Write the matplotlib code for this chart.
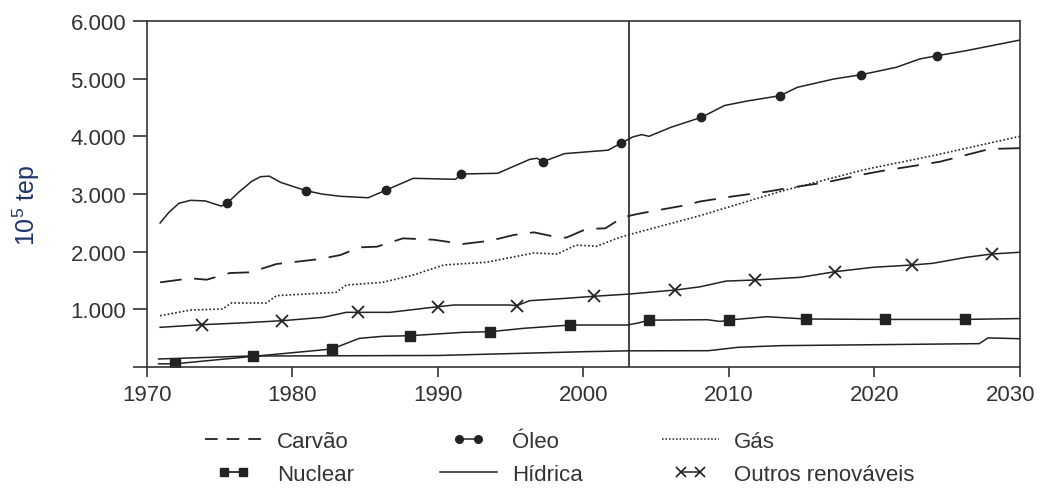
import matplotlib
matplotlib.use('Agg')
import matplotlib.pyplot as plt
from matplotlib.lines import Line2D
from matplotlib.legend_handler import HandlerLine2D
from matplotlib.transforms import ScaledTranslation

plt.rcParams['font.family'] = ['Liberation Sans', 'DejaVu Sans']
plt.rcParams['mathtext.default'] = 'regular'

# ---------------- data (10^5 tep) ----------------
oleo_years = [1970.9, 1971.5, 1972.2, 1973.0, 1974.0, 1975.1, 1975.5, 1976.3, 1977.2, 1977.8,
              1978.4, 1979.2, 1980.9, 1982.0, 1983.3, 1985.2, 1986.4, 1988.3, 1991.2, 1991.6,
              1994.1, 1996.3, 1996.8, 1997.2, 1998.7, 2001.7, 2002.6, 2003.4, 2004.0, 2004.5,
              2006.0, 2008.1, 2009.7, 2011.2, 2013.5, 2014.7, 2017.2, 2019.1, 2021.5, 2023.1,
              2024.3, 2026.3, 2030.0]
oleo_vals = [2497, 2680, 2840, 2890, 2880, 2790, 2838, 3030, 3220, 3300,
             3310, 3200, 3060, 3000, 2960, 2935, 3064, 3272, 3255, 3347,
             3359, 3600, 3620, 3560, 3700, 3760, 3884, 3990, 4030, 4000,
             4156, 4330, 4535, 4610, 4705, 4850, 4994, 5069, 5197, 5341,
             5398, 5485, 5670]
oleo_marks = [1975.5, 1980.9, 1986.4, 1991.6, 1997.2, 2002.6, 2008.1, 2013.5, 2019.1, 2024.3]

carvao_years = [1970.9, 1973.0, 1974.1, 1975.7, 1977.1, 1978.9, 1980.3, 1981.9, 1983.3, 1984.6,
                1985.8, 1987.6, 1989.7, 1991.7, 1993.6, 1995.2, 1996.6, 1997.9, 1998.8, 2000.2,
                2001.5, 2002.7, 2003.7, 2005.3, 2007.1, 2008.0, 2010.3, 2012.6, 2014.4, 2016.7,
                2019.0, 2020.6, 2022.8, 2024.5, 2026.1, 2027.9, 2030.0]
carvao_vals = [1468, 1538, 1514, 1630, 1642, 1786, 1826, 1873, 1942, 2075,
               2086, 2231, 2207, 2133, 2190, 2289, 2335, 2266, 2242, 2393,
               2405, 2596, 2653, 2728, 2809, 2870, 2960, 3040, 3116, 3203,
               3329, 3404, 3491, 3560, 3664, 3780, 3795]

gas_years = [1970.9, 1973.0, 1975.2, 1975.8, 1978.2, 1978.9, 1983.0, 1983.7, 1986.2, 1988.3,
             1990.4, 1993.3, 1996.6, 1998.2, 1999.5, 2000.9, 2002.5, 2003.2, 2008.0, 2013.7,
             2019.5, 2024.0, 2030.0]
gas_vals = [890, 988, 1006, 1110, 1110, 1237, 1295, 1422, 1468, 1595,
            1770, 1815, 1977, 1959, 2115, 2093, 2249, 2300, 2624, 3057,
            3433, 3664, 4000]

outros_years = [1970.9, 1973.8, 1976.4, 1979.3, 1982.1, 1983.7, 1984.5, 1986.7, 1990.0, 1991.1,
                1994.9, 1995.4, 1996.3, 1998.8, 2000.7, 2003.2, 2006.3, 2008.0, 2009.8, 2011.8,
                2014.9, 2017.3, 2019.9, 2022.6, 2024.0, 2026.3, 2028.1, 2030.0]
outros_vals = [688, 734, 763, 803, 861, 948, 948, 948, 1046, 1075,
               1075, 1063, 1150, 1191, 1226, 1266, 1335, 1390, 1490, 1509,
               1555, 1653, 1729, 1769, 1798, 1902, 1960, 1990]
outros_marks = [1973.8, 1979.3, 1984.5, 1990.0, 1995.4, 2000.7, 2006.3, 2011.8, 2017.3, 2022.6, 2028.1]

nuclear_years = [1970.8, 1971.9, 1977.3, 1979.8, 1982.7, 1984.6, 1986.2, 1988.1, 1991.7, 1993.6,
                 1995.9, 1999.1, 2003.0, 2003.7, 2004.5, 2008.5, 2009.4, 2010.0, 2012.6, 2015.3,
                 2020.7, 2026.2, 2030.0]
nuclear_vals = [55, 55, 185, 243, 312, 497, 532, 543, 601, 612,
                671, 728, 728, 760, 812, 820, 790, 815, 872, 832,
                825, 825, 840]
nuclear_marks = [1971.9, 1977.3, 1982.7, 1988.1, 1993.6, 1999.1, 2004.5, 2010.0, 2015.3, 2020.7, 2026.2]

hidrica_years = [1970.8, 1977.0, 1990.0, 2000.0, 2003.0, 2008.6, 2010.6, 2013.5, 2027.2, 2027.8, 2030.0]
hidrica_vals = [139, 190, 200, 265, 280, 283, 341, 370, 405, 505, 490]

divider_year = 2003.1

x_ticks = [1970, 1980, 1990, 2000, 2010, 2020, 2030]
y_ticks = [0, 1000, 2000, 3000, 4000, 5000, 6000]
y_tick_labels = ['', '1.000', '2.000', '3.000', '4.000', '5.000', '6.000']

# ---------------- figure ----------------
W, H = 1040, 489
fig = plt.figure(figsize=(W / 100, H / 100), dpi=100)
ax = fig.add_axes([147 / W, 1 - 368 / H, (1020 - 147) / W, (368 - 22) / H])

ink = '#222222'
lw = 1.1

def idx(years, marks):
    return [years.index(m) for m in marks]

ax.plot(carvao_years, carvao_vals, color=ink, lw=1.3, linestyle=(0, (12, 7)))
ax.plot(gas_years, gas_vals, color=ink, lw=1.2, linestyle=(0, (1, 1.3)))
ax.plot(hidrica_years, hidrica_vals, color=ink, lw=lw)
ax.plot(nuclear_years, nuclear_vals, color=ink, lw=lw, marker='s', ms=6.5,
        markevery=idx(nuclear_years, nuclear_marks))
ax.plot(outros_years, outros_vals, color=ink, lw=lw, marker='x', ms=8, mew=1.3,
        markevery=idx(outros_years, outros_marks))
ax.plot(oleo_years, oleo_vals, color=ink, lw=lw, marker='o', ms=6,
        markevery=idx(oleo_years, oleo_marks))

ax.axvline(divider_year, color=ink, lw=1.2)

ax.set_xlim(1970, 2030)
ax.set_ylim(0, 6000)
ax.set_xticks(x_ticks)
ax.set_yticks(y_ticks)
ax.set_yticklabels(y_tick_labels)
ax.tick_params(axis='x', direction='out', length=7, width=1.2, pad=5,
               labelsize=16, colors='#333333')
ax.tick_params(axis='y', direction='out', length=10, width=1.2, pad=5,
               labelsize=16, colors='#333333')
for s in ax.spines.values():
    s.set_linewidth(1.2)
    s.set_color('#333333')

# keep the last x label inside the figure
last = ax.get_xticklabels()[-1]
last.set_transform(last.get_transform() + ScaledTranslation(-9 / 100, 0, fig.dpi_scale_trans))

ax.set_ylabel(r'10$^5$ tep', fontsize=18, color='#1f3566')
ax.yaxis.set_label_coords(-0.12, 0.47)

# ---------------- legend ----------------
def proxy(**kw):
    return Line2D([], [], color=ink, **kw)

h_carvao = proxy(lw=1.3, linestyle=(0, (7, 5)))
h_nuclear = proxy(lw=1.3, marker='s', ms=6)
h_oleo = proxy(lw=1.1, marker='o', ms=5.5)
h_hidrica = proxy(lw=1.1)
h_gas = proxy(lw=1.1, linestyle=(0, (1, 1.3)))
h_outros = proxy(lw=1.1, marker='x', ms=7, mew=1.2)

hm = {h: HandlerLine2D(numpoints=2, marker_pad=0.85)
      for h in (h_nuclear, h_oleo, h_outros)}

cols = [
    (205, [h_carvao, h_nuclear], ['Carvão', 'Nuclear']),
    (440, [h_oleo, h_hidrica], ['Óleo', 'Hídrica']),
    (662, [h_gas, h_outros], ['Gás', 'Outros renováveis']),
]
for xpix, hs, labs in cols:
    leg = fig.legend(hs, labs, loc='center left',
                     bbox_to_anchor=(xpix / W, 1 - 459 / H),
                     frameon=False, fontsize=16, handlelength=2.57,
                     handletextpad=0.68, labelspacing=0.55,
                     borderaxespad=0, borderpad=0, handler_map=hm)
    for t in leg.get_texts():
        t.set_color('#333333')

fig.savefig('out.png', dpi=100)
